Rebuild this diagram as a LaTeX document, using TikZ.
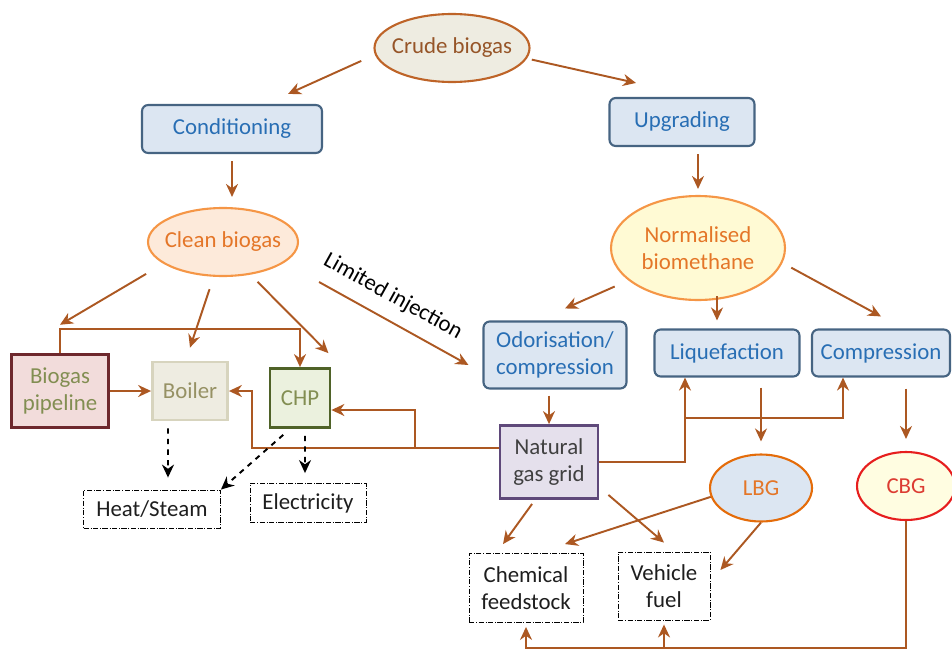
\documentclass[tikz,border=0pt]{standalone}
\usepackage{fontspec}
\setmainfont{Carlito}
\usepackage{xcolor}
\usepackage{tikz}
\usetikzlibrary{arrows.meta,positioning,shapes.geometric}

\definecolor{arrowc}{RGB}{172,88,34}
\definecolor{crudefill}{RGB}{238,236,225}
\definecolor{crudeline}{RGB}{190,100,40}
\definecolor{crudetext}{RGB}{150,85,40}
\definecolor{boxfill}{RGB}{220,230,242}
\definecolor{boxline}{RGB}{70,100,130}
\definecolor{boxtext}{RGB}{40,110,180}
\definecolor{orline}{RGB}{245,150,70}
\definecolor{ortext}{RGB}{228,118,40}
\definecolor{cleanfill}{RGB}{253,234,218}
\definecolor{normfill}{RGB}{255,250,212}
\definecolor{pipefill}{RGB}{242,220,219}
\definecolor{pipeline}{RGB}{110,40,45}
\definecolor{olivetext}{RGB}{130,142,82}
\definecolor{boilfill}{RGB}{238,236,225}
\definecolor{boilline}{RGB}{215,212,190}
\definecolor{boiltext}{RGB}{150,145,100}
\definecolor{chpfill}{RGB}{235,241,222}
\definecolor{chpline}{RGB}{79,98,40}
\definecolor{gridfill}{RGB}{229,224,236}
\definecolor{gridline}{RGB}{95,73,122}
\definecolor{lbgline}{RGB}{228,108,10}
\definecolor{cbgfill}{RGB}{255,253,225}
\definecolor{cbgline}{RGB}{230,30,30}
\definecolor{cbgtext}{RGB}{220,60,50}
\definecolor{outtext}{RGB}{30,30,30}

\begin{document}
\begin{tikzpicture}[
  x=0.02cm, y=-0.02cm,
  font=\fontsize{13}{15.5}\selectfont,
  every node/.style={align=center, inner sep=2pt},
  blob/.style={draw, ellipse, line width=1.2pt, inner xsep=-3pt, inner ysep=0pt},
  box/.style={draw=boxline, fill=boxfill, text=boxtext, rounded corners=3.5pt, line width=1.2pt},
  sqbox/.style={draw, line width=1.6pt},
  outbox/.style={draw, densely dash dot, line width=0.5pt, text=outtext},
  arr/.style={-{Stealth[length=2.6mm,width=2.4mm]}, line width=1.1pt, draw=arrowc},
  dasharr/.style={-{Stealth[length=2.6mm,width=2.4mm]}, dashed, line width=1.1pt}
]
\useasboundingbox (0,0) rectangle (952,649);

% top of the tree
\node[blob, fill=crudefill, draw=crudeline, text=crudetext, minimum width=3cm, minimum height=1.36cm] (crude) at (452,48) {Crude biogas};
\node[box, minimum width=3.6cm, minimum height=0.96cm] (cond) at (232,129) {Conditioning};
\node[box, minimum width=2.9cm, minimum height=0.96cm] (upg) at (682,122) {Upgrading};
\node[blob, fill=cleanfill, draw=orline, text=ortext, minimum width=3cm, minimum height=1.36cm] (clean) at (223,242) {Clean biogas};
\node[blob, fill=normfill, draw=orline, text=ortext, minimum width=3.48cm, minimum height=2.08cm] (norm) at (698,248) {Normalised\\biomethane};

% left branch
\node[sqbox, fill=pipefill, draw=pipeline, text=olivetext, minimum width=1.94cm, minimum height=1.46cm, line width=2pt] (pipe) at (60,391) {Biogas\\pipeline};
\node[sqbox, fill=boilfill, draw=boilline, text=boiltext, minimum width=1.5cm, minimum height=1.16cm] (boiler) at (190,391) {Boiler};
\node[sqbox, fill=chpfill, draw=chpline, text=olivetext, minimum width=1.2cm, minimum height=1.18cm] (chp) at (300,398) {CHP};
\node[outbox, minimum width=2.74cm, minimum height=0.76cm] (heat) at (152,509) {Heat/Steam};
\node[outbox, minimum width=2.32cm, minimum height=0.78cm] (elec) at (308,503) {Electricity};

% right branch
\node[box, minimum width=2.86cm, minimum height=1.34cm] (odor) at (555,355) {Odorisation/\\compression};
\node[box, minimum width=2.9cm, minimum height=0.94cm] (liq) at (727,353) {Liquefaction};
\node[box, minimum width=2.76cm, minimum height=0.94cm] (comp) at (881,353) {Compression};
\node[sqbox, fill=gridfill, draw=gridline, text=outtext!85, minimum width=1.96cm, minimum height=1.46cm] (grid) at (549,462) {Natural\\gas grid};
\node[blob, fill=boxfill, draw=lbgline, text=ortext, minimum width=2.04cm, minimum height=1.34cm] (lbg) at (761,488) {LBG};
\node[blob, fill=cbgfill, draw=cbgline, text=cbgtext, minimum width=1.96cm, minimum height=1.36cm] (cbg) at (906,486) {CBG};
\node[outbox, minimum width=2.28cm, minimum height=1.38cm] (chem) at (526,588) {Chemical\\feedstock};
\node[outbox, minimum width=1.84cm, minimum height=1.36cm] (veh) at (664,586) {Vehicle\\fuel};

% arrows
\draw[arr, shorten <=0.3cm] (crude.185) -- ([shift={(-35,-10)}]cond.north east);
\draw[arr, shorten <=0.1cm] (crude.352) -- ([shift={(-46,-14)}]upg.north);
\draw[arr, shorten <=0.14cm, shorten >=0.2cm] (cond.south) -- (cond.south |- clean.north);
\draw[arr, shorten <=0.14cm, shorten >=0.12cm] (upg.south -| norm.north) -- (norm.north);
\draw[arr, shorten <=0.4cm] (clean.200) -- ([yshift=0.56cm]pipe.north);
\draw[arr, shorten <=0.26cm] (clean.255) -- ([yshift=0.26cm]boiler.north);
\draw[arr, shorten <=0.2cm] (clean.310) -- ([shift={(-3,-14)}]chp.north east);
\draw[arr] ([shift={(20,40)}]clean.east) -- node[pos=0.42, sloped, above=5pt, text=black] {Limited injection} ([shift={(-14,10)}]odor.west);
\draw[arr] (pipe.north) -- ++(0,-24) -| (chp.north);
\draw[arr] (pipe.east) -- (boiler.west);

\coordinate (gridw) at ([yshift=0.28cm]grid.west);
\coordinate (split) at (415,448);
\draw[arr] (gridw) -| ([xshift=0.46cm]boiler.east) -- (boiler.east);
\draw[arr] (split) |- ([yshift=-0.24cm]chp.east);

\draw[dasharr, shorten <=0.14cm, shorten >=0.24cm] ([xshift=-0.44cm]boiler.south) -- ([xshift=0.32cm]heat.north);
\draw[dasharr, shorten <=0.18cm] ([xshift=-0.2cm]chp.south) -- (heat.north east);
\draw[dasharr, shorten <=0.14cm, shorten >=0.2cm] ([xshift=0.1cm]chp.south) -- ([xshift=-0.06cm]elec.north);

\coordinate (liqin) at ([xshift=-0.2cm]liq.north);
\draw[arr, shorten <=0.3cm] (norm.205) -- ([shift={(10,-12)}]odor.north);
\draw[arr, shorten <=-0.1cm, shorten >=0.16cm] (liqin |- norm.south) -- (liqin);
\draw[arr, shorten <=0.2cm] (norm.350) -- ([yshift=0.24cm]comp.north);
\draw[arr, shorten <=0.12cm] (odor.south -| grid.north) -- (grid.north);

\coordinate (split2) at (685,418);
\draw[arr] (grid.east) -| ([xshift=-0.84cm]liq.south);
\draw[arr] (split2) -| ([xshift=-0.76cm]comp.south);
\draw[arr, shorten <=0.2cm, shorten >=0.24cm] (liq.south -| lbg.north) -- (lbg.north);
\draw[arr, shorten <=0.22cm, shorten >=0.24cm] (comp.south -| cbg.north) -- (cbg.north);

\draw[arr, shorten <=0.1cm] ([xshift=-0.28cm]grid.south) -- ([shift={(-23,-9)}]chem.north);
\draw[arr] ([shift={(9,-5)}]grid.south east) -- ([yshift=0.18cm]veh.north);
\draw[arr] (lbg.190) -- ([shift={(39,-9)}]chem.north);
\draw[arr] (lbg.south) -- ([shift={(10,-16)}]veh.east);

\draw[arr, shorten >=0.08cm] (cbg.south) -- ++(0,127) coordinate (cbgbot) -| (chem.south);
\draw[arr, shorten >=0.08cm] (cbgbot -| veh.south) -- (veh.south);
\end{tikzpicture}
\end{document}
